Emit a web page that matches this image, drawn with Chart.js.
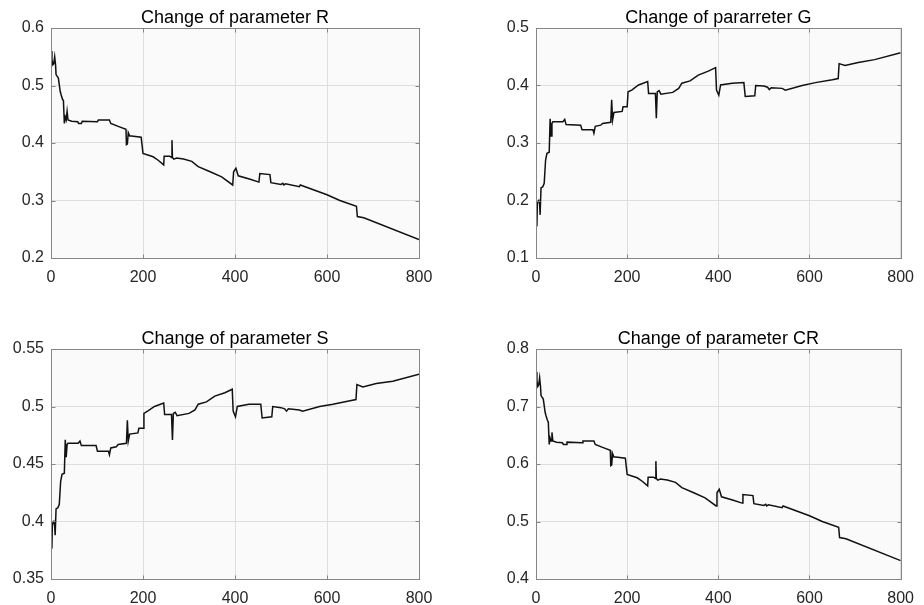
<!DOCTYPE html>
<html>
<head>
<meta charset="utf-8">
<title>Change of parameters</title>
<script src="https://cdn.jsdelivr.net/npm/chart.js@4.4.1/dist/chart.umd.min.js"></script>
<style>
  html, body { margin: 0; padding: 0; background: #fff; }
  #wrap { position: relative; width: 924px; height: 605px; overflow: hidden; }
  canvas { position: absolute; }
</style>
</head>
<body>
<div id="wrap">
  <canvas id="chart-r" width="462" height="300" style="left:0;top:0"></canvas>
  <canvas id="chart-g" width="462" height="300" style="left:462px;top:0"></canvas>
  <canvas id="chart-s" width="462" height="305" style="left:0;top:300px"></canvas>
  <canvas id="chart-cr" width="462" height="305" style="left:462px;top:300px"></canvas>
</div>
<script>
// x axis ticks shared by all four plots
const xTicks = [0, 200, 400, 600, 800];

// parameter R
const rIter = [0, 2, 4, 6, 8, 10, 11, 16, 20, 22, 25, 27, 29, 31, 33, 35, 37, 45, 58, 60, 66, 68, 101, 103, 127, 130, 146, 163, 164, 166, 168, 171, 175, 196, 198, 200, 222, 233, 245, 246, 258, 262, 263, 264, 267, 273, 288, 306, 320, 346, 371, 395, 397, 402, 407, 433, 452, 454, 476, 478, 500, 504, 506, 510, 540, 542, 600, 628, 664, 666, 680, 800];
const rVal  = [0.56, 0.545, 0.536, 0.538, 0.55, 0.535, 0.519, 0.513, 0.49, 0.484, 0.476, 0.474, 0.434, 0.445, 0.44, 0.455, 0.44, 0.438, 0.437, 0.434, 0.434, 0.438, 0.437, 0.44, 0.44, 0.434, 0.429, 0.424, 0.397, 0.398, 0.418, 0.412, 0.412, 0.41, 0.396, 0.382, 0.376, 0.37, 0.362, 0.377, 0.377, 0.375, 0.405, 0.375, 0.372, 0.374, 0.372, 0.368, 0.359, 0.35, 0.341, 0.327, 0.35, 0.356, 0.343, 0.337, 0.332, 0.347, 0.345, 0.331, 0.328, 0.33, 0.327, 0.329, 0.324, 0.327, 0.31, 0.3, 0.29, 0.272, 0.27, 0.232];
const rTicks = [0.2, 0.3, 0.4, 0.5, 0.6];

// parameter G
const gIter = [0, 2, 3, 6, 8, 9, 11, 15, 18, 21, 24, 29, 31, 33, 35, 37, 59, 63, 66, 98, 101, 125, 127, 130, 142, 146, 164, 166, 168, 171, 189, 191, 200, 202, 210, 225, 245, 247, 262, 264, 266, 270, 274, 300, 313, 320, 338, 356, 378, 394, 396, 401, 405, 430, 456, 459, 480, 482, 500, 508, 512, 516, 540, 547, 584, 613, 650, 663, 665, 678, 707, 743, 800];
const gVal  = [0.158, 0.157, 0.197, 0.2, 0.193, 0.175, 0.222, 0.224, 0.23, 0.27, 0.282, 0.284, 0.342, 0.312, 0.334, 0.337, 0.337, 0.341, 0.332, 0.331, 0.323, 0.323, 0.317, 0.329, 0.331, 0.334, 0.336, 0.375, 0.34, 0.353, 0.355, 0.363, 0.363, 0.389, 0.392, 0.401, 0.407, 0.386, 0.386, 0.343, 0.389, 0.391, 0.385, 0.388, 0.395, 0.404, 0.408, 0.418, 0.425, 0.431, 0.392, 0.383, 0.401, 0.404, 0.405, 0.381, 0.382, 0.4, 0.399, 0.397, 0.393, 0.396, 0.395, 0.392, 0.4, 0.405, 0.41, 0.412, 0.438, 0.435, 0.44, 0.445, 0.457];
const gTicks = [0.1, 0.2, 0.3, 0.4, 0.5];

// parameter S
const sIter = [0, 2, 3, 6, 8, 9, 11, 15, 18, 21, 24, 29, 31, 33, 35, 37, 59, 63, 66, 98, 101, 125, 127, 130, 142, 146, 164, 166, 168, 171, 189, 191, 200, 202, 210, 225, 245, 247, 262, 264, 266, 270, 274, 300, 313, 320, 338, 356, 378, 394, 396, 401, 405, 430, 456, 459, 480, 482, 500, 508, 512, 516, 540, 547, 584, 613, 650, 663, 665, 678, 707, 743, 800];
const sVal  = [0.379, 0.378, 0.398, 0.4, 0.396, 0.388, 0.411, 0.412, 0.415, 0.435, 0.441, 0.442, 0.471, 0.456, 0.467, 0.468, 0.468, 0.47, 0.466, 0.466, 0.461, 0.461, 0.458, 0.464, 0.465, 0.467, 0.468, 0.488, 0.47, 0.476, 0.477, 0.481, 0.481, 0.494, 0.496, 0.5, 0.503, 0.493, 0.493, 0.471, 0.494, 0.495, 0.492, 0.494, 0.497, 0.502, 0.504, 0.509, 0.512, 0.515, 0.496, 0.491, 0.5, 0.502, 0.502, 0.49, 0.491, 0.5, 0.499, 0.498, 0.496, 0.498, 0.497, 0.496, 0.5, 0.502, 0.505, 0.506, 0.519, 0.517, 0.52, 0.522, 0.528];
const sTicks = [0.35, 0.4, 0.45, 0.5, 0.55];

// parameter CR
const crIter = [0, 2, 4, 6, 8, 10, 11, 16, 20, 22, 25, 27, 29, 31, 33, 35, 37, 45, 58, 60, 66, 68, 101, 103, 127, 130, 146, 163, 164, 166, 168, 171, 175, 196, 198, 200, 222, 233, 245, 246, 258, 262, 263, 264, 267, 273, 288, 306, 320, 346, 371, 395, 397, 402, 407, 433, 452, 454, 476, 478, 500, 504, 506, 510, 540, 542, 600, 628, 664, 666, 680, 800];
const crVal  = [0.76, 0.745, 0.735, 0.738, 0.75, 0.734, 0.719, 0.713, 0.69, 0.684, 0.676, 0.673, 0.634, 0.645, 0.64, 0.655, 0.64, 0.638, 0.637, 0.634, 0.634, 0.638, 0.637, 0.64, 0.64, 0.634, 0.629, 0.624, 0.597, 0.598, 0.618, 0.612, 0.612, 0.61, 0.596, 0.582, 0.576, 0.57, 0.562, 0.577, 0.577, 0.575, 0.605, 0.575, 0.572, 0.574, 0.572, 0.568, 0.559, 0.55, 0.541, 0.527, 0.55, 0.556, 0.543, 0.537, 0.532, 0.547, 0.545, 0.531, 0.528, 0.53, 0.527, 0.529, 0.524, 0.527, 0.51, 0.5, 0.49, 0.472, 0.47, 0.432];
const crTicks = [0.4, 0.5, 0.6, 0.7, 0.8];

const FONT = '"Liberation Sans", Arial, Helvetica, sans-serif';
const frameColor = '#868686';

// plot background, box and inward tick marks (matlab style axes)
const framePlugin = {
  id: 'frame',
  beforeDraw(chart) {
    const { ctx, chartArea: a } = chart;
    ctx.save();
    ctx.fillStyle = '#fafafa';
    ctx.fillRect(a.left, a.top, a.right - a.left, a.bottom - a.top);
    ctx.restore();
  },
  afterDraw(chart) {
    const { ctx, chartArea: a, scales } = chart;
    const L = Math.round(a.left) + 0.5, R = Math.round(a.right) + 0.5;
    const T = Math.round(a.top) + 0.5, B = Math.round(a.bottom) + 0.5;
    ctx.save();
    ctx.strokeStyle = frameColor;
    ctx.lineWidth = 1;
    ctx.strokeRect(L, T, R - L, B - T);
    ctx.beginPath();
    scales.x.ticks.forEach(t => {
      const px = Math.round(scales.x.getPixelForValue(t.value)) + 0.5;
      ctx.moveTo(px, B); ctx.lineTo(px, B - 4);
      ctx.moveTo(px, T); ctx.lineTo(px, T + 4);
    });
    scales.y.ticks.forEach(t => {
      const py = Math.round(scales.y.getPixelForValue(t.value)) + 0.5;
      ctx.moveTo(L, py); ctx.lineTo(L + 4, py);
      ctx.moveTo(R, py); ctx.lineTo(R - 4, py);
    });
    ctx.stroke();
    ctx.restore();
  }
};

function makeChart(id, title, iters, values, yTicks, box) {
  const points = iters.map((x, i) => ({ x: x, y: values[i] }));
  return new Chart(document.getElementById(id), {
    type: 'line',
    data: {
      datasets: [{
        data: points,
        borderColor: '#111111',
        borderWidth: 1.5,
        pointRadius: 0,
        tension: 0,
        fill: false
      }]
    },
    options: {
      responsive: false,
      animation: false,
      events: [],
      layout: { padding: { top: box.top, right: box.right, left: 0, bottom: 0 } },
      plugins: {
        legend: { display: false },
        tooltip: { enabled: false },
        title: {
          display: true,
          fullSize: false,
          text: title,
          color: '#000000',
          font: { family: FONT, size: 18, weight: 'normal', lineHeight: 1 },
          padding: { top: 9, bottom: 1 }
        }
      },
      scales: {
        x: {
          type: 'linear',
          min: 0,
          max: 800,
          afterBuildTicks: s => { s.ticks = xTicks.map(v => ({ value: v })); },
          afterFit: s => { s.height = box.xh; },
          grid: { color: '#dedede', drawTicks: false },
          border: { display: false },
          ticks: { color: '#262626', padding: 10, maxRotation: 0, font: { family: FONT, size: 16 },
                   callback: v => String(v) }
        },
        y: {
          type: 'linear',
          min: yTicks[0],
          max: yTicks[yTicks.length - 1],
          afterBuildTicks: s => { s.ticks = yTicks.map(v => ({ value: v })); },
          afterFit: s => { s.width = box.yw; },
          grid: { color: '#dedede', drawTicks: false },
          border: { display: false },
          ticks: { color: '#262626', padding: 7, font: { family: FONT, size: 16 },
                   callback: v => String(v) }
        }
      }
    },
    plugins: [framePlugin]
  });
}

makeChart('chart-r', 'Change of parameter R', rIter, rVal, rTicks, { top: 0, right: 43, yw: 51, xh: 42 });
makeChart('chart-g', 'Change of pararreter G', gIter, gVal, gTicks, { top: 0, right: 19, yw: 74, xh: 42 });
makeChart('chart-s', 'Change of parameter S', sIter, sVal, sTicks, { top: 21, right: 43, yw: 51, xh: 26 });
makeChart('chart-cr', 'Change of parameter CR', crIter, crVal, crTicks, { top: 21, right: 19, yw: 74, xh: 26 });
</script>
</body>
</html>
